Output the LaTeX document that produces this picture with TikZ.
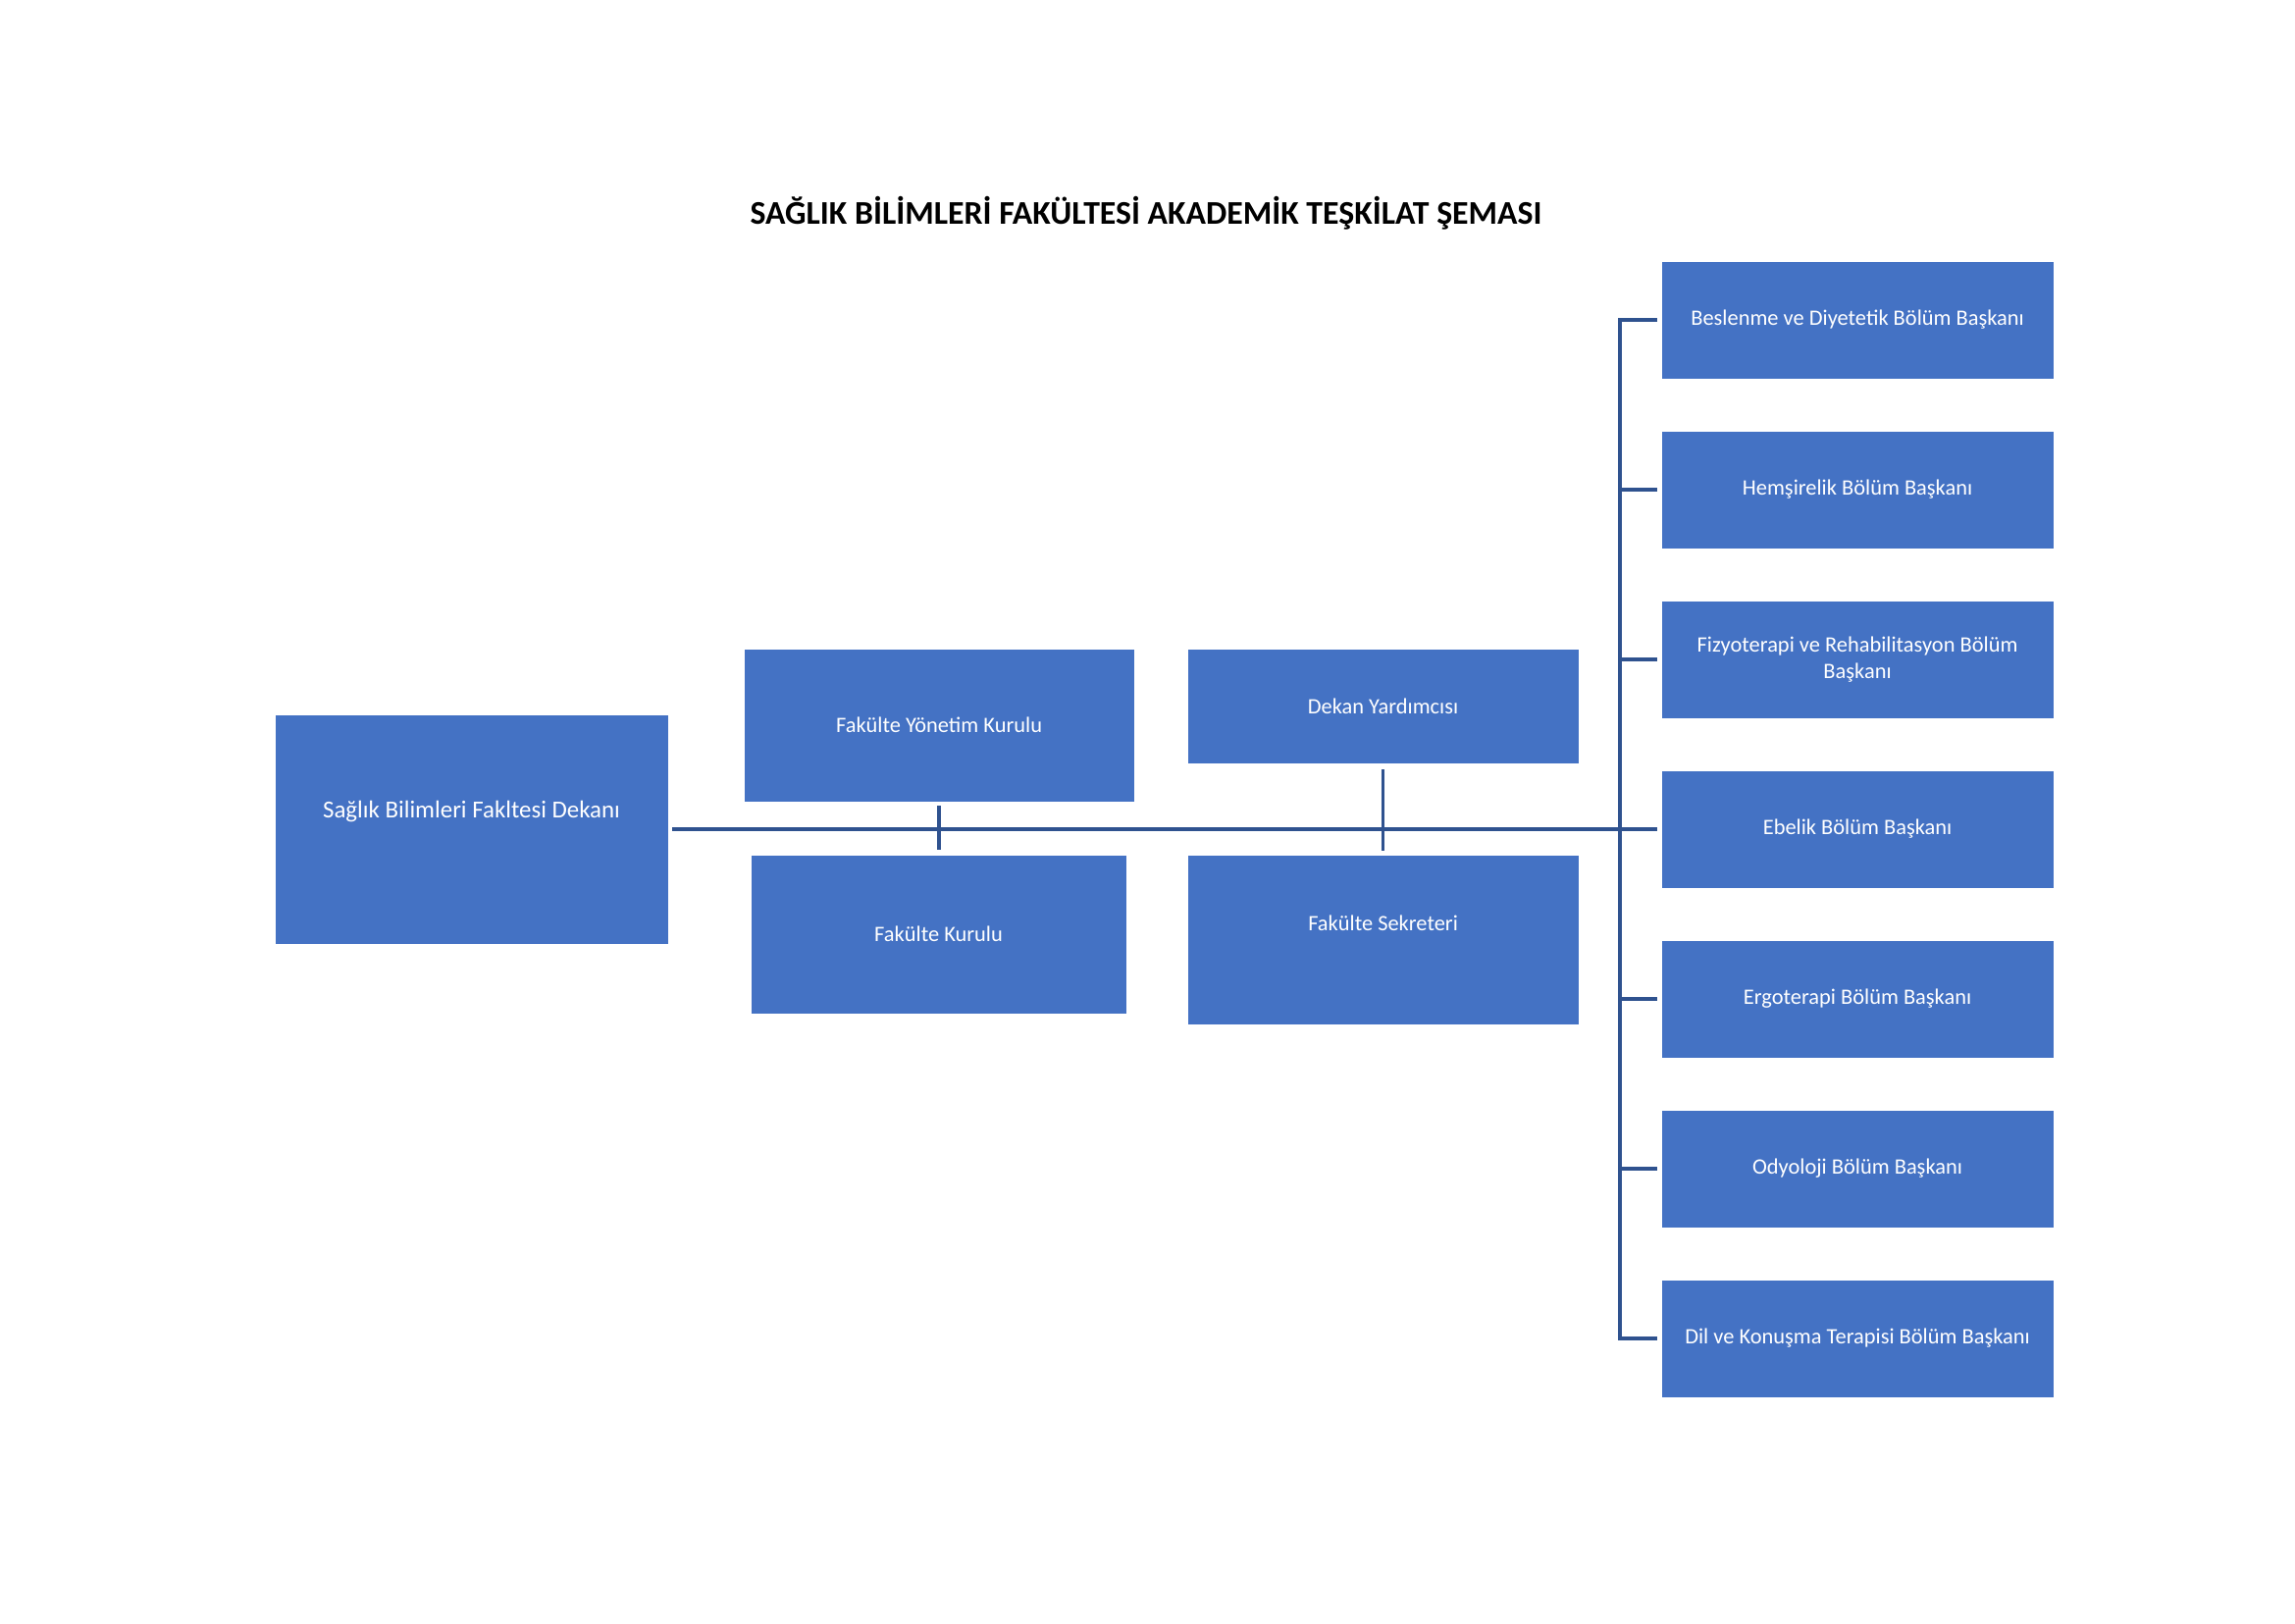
\documentclass[tikz,border=0pt]{standalone}
\usepackage{fontspec}
\setmainfont{Carlito}
\definecolor{boxblue}{HTML}{4472C4}
\definecolor{lineblue}{HTML}{2F528F}
\newdimen\px \px=0.359936bp
\begin{document}
\begin{tikzpicture}[x=0.359936bp,y=-0.359936bp,
  box/.style={rectangle, fill=boxblue, draw=none, inner sep=0pt, text=white,
    font=\fontsize{8.1}{9.9}\selectfont, align=center, anchor=north west},
  rbox/.style={box, minimum width=399\px, minimum height=119\px},
  lbl/.style={text=white, inner sep=0pt, align=center},
  conn/.style={draw=lineblue, line width=1.2pt}]
\useasboundingbox[fill=white] (0,0) rectangle (2339,1654);

\node[font=\bfseries\fontsize{12.2}{14}\selectfont] (title) at (1168,217)
  {SAĞLIK BİLİMLERİ FAKÜLTESİ AKADEMİK TEŞKİLAT ŞEMASI};

% dean
\node[box, minimum width=400\px, minimum height=233\px,
  label={[lbl, font=\fontsize{9}{11}\selectfont, yshift=18\px]center:Sağlık Bilimleri Fakltesi Dekanı}]
  (dean) at (280,728) {};

% middle boxes
\node[box, minimum width=397\px, minimum height=155\px] (fyk) at (758,661) {Fakülte Yönetim Kurulu};
\node[box, minimum width=382\px, minimum height=161\px] (fk) at (765,871) {Fakülte Kurulu};
\node[box, minimum width=398\px, minimum height=116\px] (dy) at (1210,661) {Dekan Yardımcısı};
\node[box, minimum width=398\px, minimum height=172\px,
  label={[lbl, font=\fontsize{8.1}{9.9}\selectfont, yshift=17\px]center:Fakülte Sekreteri}]
  (fs) at (1210,871) {};

% right column
\node[rbox] (b1) at (1693,266) {Beslenme ve Diyetetik Bölüm Başkanı};
\node[rbox] (b2) at (1693,439) {Hemşirelik Bölüm Başkanı};
\node[rbox] (b3) at (1693,612) {Fizyoterapi ve Rehabilitasyon Bölüm\\Başkanı};
\node[rbox] (b4) at (1693,785) {Ebelik Bölüm Başkanı};
\node[rbox] (b5) at (1693,958) {Ergoterapi Bölüm Başkanı};
\node[rbox] (b6) at (1693,1131) {Odyoloji Bölüm Başkanı};
\node[rbox] (b7) at (1693,1304) {Dil ve Konuşma Terapisi Bölüm Başkanı};

% connectors
\draw[conn] ([xshift=4\px]dean.east |- b4.west) -- ([xshift=-4\px]b4.west);
\coordinate (bustop) at (1651,0 |- b1.west);
\coordinate (busbot) at (1651,0 |- b7.west);
\draw[conn] ([xshift=-4\px]b1.west) -- (bustop) -- (busbot) -- ([xshift=-4\px]b7.west);
\foreach \b in {b2,b3,b5,b6}{
  \draw[conn] (1651,0 |- \b.west) -- ([xshift=-4\px]\b.west);
}
\draw[conn] ([yshift=-4\px]fyk.south) -- ([yshift=5\px]fyk.south |- fk.north);
\draw[conn] ([yshift=-6\px]dy.south) -- ([yshift=4\px]fs.north);
\end{tikzpicture}
\end{document}
